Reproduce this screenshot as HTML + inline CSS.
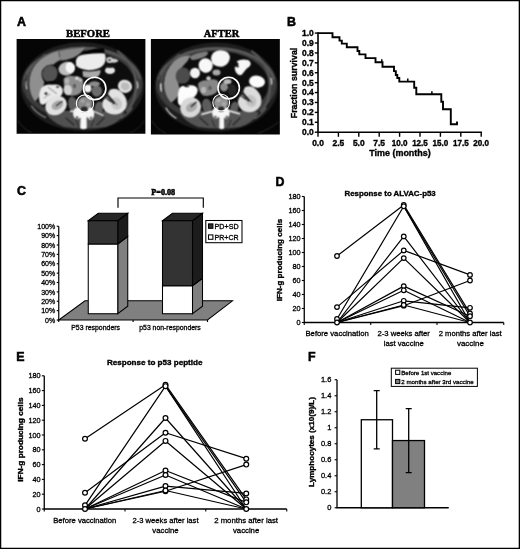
<!DOCTYPE html>
<html><head><meta charset="utf-8"><title>Figure</title>
<style>
html,body{margin:0;padding:0;background:#fff;}
body{width:520px;height:549px;overflow:hidden;font-family:"Liberation Sans",sans-serif;}
svg{display:block;}
text{fill:#000;}
</style></head><body>
<svg width="520" height="549" viewBox="0 0 520 549">
<rect x="0" y="0" width="520" height="549" fill="#fff"/>
<g opacity="0.999">
<text x="88" y="36.8" text-anchor="middle" style="font-family:'Liberation Serif', serif;font-size:10.7px;font-weight:bold;" stroke="#000" stroke-width="0.5" textLength="44" lengthAdjust="spacingAndGlyphs" >BEFORE</text>
<text x="221.5" y="36.8" text-anchor="middle" style="font-family:'Liberation Serif', serif;font-size:10.6px;font-weight:bold;" stroke="#000" stroke-width="0.5" textLength="35.5" lengthAdjust="spacingAndGlyphs" >AFTER</text>
<g id="ct1"><defs>
<filter id="bl" x="-5%" y="-5%" width="110%" height="110%" color-interpolation-filters="sRGB"><feConvolveMatrix order="3" kernelMatrix="1 2 1 2 4 2 1 2 1" divisor="16" edgeMode="duplicate" preserveAlpha="false"/></filter>
</defs><clipPath id="c1"><rect x="16.6" y="39.1" width="128.8" height="94.6"/></clipPath>
<g clip-path="url(#c1)">
<rect x="14.600000000000001" y="37.1" width="132.8" height="98.6" fill="#050505"/>
<g filter="url(#bl)">
<ellipse cx="82.3" cy="86.6" rx="61.6" ry="44.4" fill="#1d1d1d" />
<ellipse cx="82.3" cy="83.6" rx="60.2" ry="37.0" fill="#3b3b3b" />
<ellipse cx="82.2" cy="84.2" rx="52.6" ry="33.4" fill="#0d0d0d" />
<path d="M36 112 Q60 131 85 131.5 Q110 131 130 111 Q112 126 85 127 Q56 126 36 112 Z" fill="#1a1a1a" />
<path d="M46 113 Q58 110 72 111 L98 111 Q114 111 125 112.5 Q120 122.5 106 127 Q85 130 64 127 Q51 122 46 113 Z" fill="#505050" />
<path d="M66 118 L74 125" fill="none" stroke="#262626" stroke-width="1.2" stroke-linecap="round" />
<path d="M104 118 L97 125" fill="none" stroke="#262626" stroke-width="1.2" stroke-linecap="round" />
<path d="M76 120 L79 127" fill="none" stroke="#2a2a2a" stroke-width="1" stroke-linecap="round" />
<path d="M94 120 L91 127" fill="none" stroke="#2a2a2a" stroke-width="1" stroke-linecap="round" />
<path d="M24.8 78 A58.3 36 0 0 1 139.8 78" fill="none" stroke="#585858" stroke-width="2.6" stroke-linecap="round" />
<path d="M34.8 101.2 Q29.6 94 29.3 84 Q29.5 72 36 64 Q44 55 58 51 L60.5 60 Q56 61.5 53.5 64.5 Q46 63.5 42 70.5 Q40.5 77 44.3 82 Q43.5 89.5 39.5 96 Q37.5 100 34.8 101.2 Z" fill="#8f8f8f" />
<path d="M59 51.2 Q70 48.6 85 47.4 Q82.5 52.5 74 57.4 Q67 60 60.5 60.6 Z" fill="#868686" />
<ellipse cx="49.9" cy="73.6" rx="7.6" ry="8.4" fill="#535353" transform="rotate(20 49.9 73.6)" />
<ellipse cx="66.8" cy="68.6" rx="8.4" ry="6.8" fill="#bdbdbd" transform="rotate(-12 66.8 68.6)" />
<ellipse cx="70.2" cy="67.6" rx="4.6" ry="5.6" fill="#f6f6f6" transform="rotate(-10 70.2 67.6)" />
<path d="M79 55.5 Q90 47.6 104 48.4 L105 54 Z" fill="#000" />
<path d="M75.8 61 Q76.5 55.6 84 54.6 Q96 53 104.6 53.4 Q107 58 104.2 64 Q100 70 88.5 70.2 Q79 69.4 76.2 65.5 Z" fill="#ececec" />
<path d="M82.5 71 Q92 72.2 100.5 70 Q101 75 96.5 77.5 Q88 78.5 83 76.5 Z" fill="#a9a9a9" />
<path d="M63.5 79 Q67 74.8 74 76.2 Q81 75.6 83 80 Q84 88 80.5 93 Q76 96.6 70 95.4 Q64.5 93 64 86 Z" fill="#8d8d8d" />
<ellipse cx="67.8" cy="90" rx="4.2" ry="5.4" fill="#d2d2d2" transform="rotate(-10 67.8 90)" />
<ellipse cx="77" cy="78.2" rx="1.8" ry="1.8" fill="#e0e0e0" />
<ellipse cx="80.4" cy="80" rx="1.4" ry="1.6" fill="#d4d4d4" />
<ellipse cx="67" cy="81" rx="2.4" ry="3" fill="#b3b3b3" />
<ellipse cx="74.5" cy="86" rx="1.6" ry="2.2" fill="#5c5c5c" />
<path d="M41 88.5 Q45 83.8 52 84.8 Q60 83.6 62.6 89 Q63.6 95 59 97 Q50.5 97 46 103 Q42.5 106.5 39.8 102.8 Q38 95 41 88.5 Z" fill="#e9e9e9" />
<ellipse cx="46" cy="93.6" rx="1.5" ry="1.3" fill="#2c2c2c" />
<path d="M48.5 87.5 L56.5 93.5" fill="none" stroke="#777" stroke-width="0.9" stroke-linecap="round" />
<path d="M44 98 L50 94" fill="none" stroke="#8a8a8a" stroke-width="0.9" stroke-linecap="round" />
<ellipse cx="57.6" cy="87" rx="1.6" ry="1.1" fill="#4c4c4c" />
<path d="M45.5 84.4 Q48 80.4 52 81.2 Q56 80.6 57.4 83.6 Q52 82.6 45.5 84.4 Z" fill="#050505" />
<ellipse cx="56" cy="105.6" rx="11.2" ry="9.3" fill="#e2e2e2" transform="rotate(-28 56 105.6)" />
<ellipse cx="57.4" cy="105.2" rx="6.2" ry="4.2" fill="#a8a8a8" transform="rotate(-28 57.4 105.2)" />
<path d="M62 101.5 L56.5 105.5" fill="none" stroke="#3c3c3c" stroke-width="1.4" stroke-linecap="round" />
<ellipse cx="73" cy="104.5" rx="4.6" ry="7.8" fill="#5e5e5e" transform="rotate(-12 73 104.5)" />
<ellipse cx="99" cy="107.6" rx="4.4" ry="6.3" fill="#5e5e5e" transform="rotate(14 99 107.6)" />
<ellipse cx="85" cy="103.4" rx="7.6" ry="6.8" fill="#8a8a8a" />
<ellipse cx="82.5" cy="101" rx="2.2" ry="1.8" fill="#a8a8a8" />
<ellipse cx="88" cy="104.5" rx="2" ry="2.2" fill="#a4a4a4" />
<ellipse cx="77.3" cy="113.3" rx="4.2" ry="5.9" fill="#f6f6f6" />
<ellipse cx="90.6" cy="113.6" rx="3.6" ry="6.3" fill="#f6f6f6" />
<path d="M80.5 111.6 L88 111.6 L88 116.5 L86.6 118 L86.8 128.3 Q83.5 130 80.2 128.3 L80.6 118 L79.5 116.5 Z" fill="#f6f6f6" />
<path d="M70.5 111.2 L75 111.4" fill="none" stroke="#ededed" stroke-width="1.6" stroke-linecap="round" />
<path d="M93 111 L103 115.4" fill="none" stroke="#e6e6e6" stroke-width="1.2" stroke-linecap="round" />
<ellipse cx="77" cy="117.5" rx="1.4" ry="1.6" fill="#6a6a6a" />
<ellipse cx="91" cy="118" rx="1.3" ry="1.6" fill="#6a6a6a" />
<ellipse cx="84.2" cy="109" rx="3.4" ry="2.6" fill="#2b2b2b" />
<ellipse cx="96.8" cy="91" rx="5.2" ry="5.8" fill="#6c6c6c" />
<ellipse cx="94.5" cy="83.8" rx="5.4" ry="2.6" fill="#8c8c8c" />
<ellipse cx="87.8" cy="88.6" rx="3.6" ry="4" fill="#f2f2f2" />
<path d="M110 89.7 Q115.4 87.6 119.4 90.4 Q124.6 94.4 126.4 99.4 Q127.6 104 126 108 Q124 111.6 120 113.6 Q113 116 107 112.6 Q102 108.6 102.4 103.2 Q102.8 100 105 98.4 L107.6 95.5 Q108.4 91.6 110 89.7 Z" fill="#e2e2e2" />
<ellipse cx="116.5" cy="103.5" rx="5.4" ry="6.4" fill="#c6c6c6" transform="rotate(-25 116.5 103.5)" />
<path d="M104.6 91.6 L113.8 103" fill="none" stroke="#1e1e1e" stroke-width="2.3" stroke-linecap="round" />
<path d="M103.2 95.5 L110.5 101.5" fill="none" stroke="#2c2c2c" stroke-width="1.3" stroke-linecap="round" />
<path d="M112 99 L117 105" fill="none" stroke="#555" stroke-width="1" stroke-linecap="round" />
<ellipse cx="125" cy="86.3" rx="7.2" ry="6.5" fill="#e2e2e2" transform="rotate(25 125 86.3)" />
<ellipse cx="125.2" cy="86.3" rx="4.6" ry="4" fill="#bcbcbc" transform="rotate(25 125.2 86.3)" />
<path d="M106.5 58 Q110 56 113 58.5 Q117 58.5 118.5 61 Q116 63.5 112 62.5 Q108.5 64 106.5 61.5 Z" fill="#cfcfcf" />
<ellipse cx="109.5" cy="60" rx="1.2" ry="1" fill="#222" />
<ellipse cx="110" cy="70.4" rx="5" ry="3.6" fill="#e4e4e4" />
<ellipse cx="110" cy="66.6" rx="4.4" ry="1.4" fill="#1a1a1a" />
<path d="M118 51.5 Q130 60 134.6 74 Q138 88 133.5 101 Q131 107 127 111" fill="none" stroke="#545454" stroke-width="2.6" stroke-linecap="round" />
<path d="M27.6 97 Q25 86 28.5 75 Q33 63 45 54.5" fill="none" stroke="#4c4c4c" stroke-width="1.8" stroke-linecap="round" />
<path d="M25.7 81.5 Q25.2 85 26.4 88.6" fill="none" stroke="#d9d9d9" stroke-width="1.6" stroke-linecap="round" />
<path d="M137.2 82 Q138.2 85 137.6 88" fill="none" stroke="#bdbdbd" stroke-width="1.4" stroke-linecap="round" />
<path d="M31.5 106 Q36 113 45.5 117.5" fill="none" stroke="#9a9a9a" stroke-width="1.1" stroke-linecap="round" />
<path d="M132 108 Q128.5 114 121 118" fill="none" stroke="#6e6e6e" stroke-width="1.1" stroke-linecap="round" />
<path d="M27 97 Q23.6 86 26 75" fill="none" stroke="#2a2a2a" stroke-width="0.9" stroke-linecap="round" />
<path d="M18 120.5 Q23 129 32 133" fill="none" stroke="#2e2e2e" stroke-width="0.9" stroke-linecap="round" />
<path d="M144 121 Q139 129 130 133" fill="none" stroke="#262626" stroke-width="0.9" stroke-linecap="round" />
</g>
<g>
<circle cx="94.7" cy="88.4" r="11.2" fill="none" stroke="#fff" stroke-width="1.6"/>
<circle cx="85" cy="103.6" r="8.7" fill="none" stroke="#fff" stroke-width="1.1"/>
</g>
</g></g>
<g id="ct2"><clipPath id="c2"><rect x="150.9" y="39.1" width="128.95000000000002" height="95.5"/></clipPath>
<g clip-path="url(#c2)">
<rect x="148.9" y="37.1" width="132.95000000000002" height="99.5" fill="#050505"/>
<g filter="url(#bl)">
<ellipse cx="216.3" cy="87" rx="61.6" ry="44.6" fill="#1d1d1d" />
<ellipse cx="216.3" cy="84.2" rx="60.2" ry="37.2" fill="#3b3b3b" />
<ellipse cx="216.2" cy="84.2" rx="52.4" ry="33.2" fill="#0d0d0d" />
<path d="M170 112 Q194 131 219 131.5 Q244 131 264 111 Q246 126 219 127 Q190 126 170 112 Z" fill="#1a1a1a" />
<path d="M180 113 Q192 110 206 111 L232 111 Q248 111 259 112.5 Q254 122.5 240 127 Q219 130 198 127 Q185 122 180 113 Z" fill="#545454" />
<path d="M200 118 L208 125" fill="none" stroke="#262626" stroke-width="1.2" stroke-linecap="round" />
<path d="M240 118 L233 125" fill="none" stroke="#262626" stroke-width="1.2" stroke-linecap="round" />
<path d="M212 120 L215 127" fill="none" stroke="#2a2a2a" stroke-width="1" stroke-linecap="round" />
<path d="M231 120 L228 127" fill="none" stroke="#2a2a2a" stroke-width="1" stroke-linecap="round" />
<path d="M158.8 78.6 A58.3 36.2 0 0 1 273.8 78.6" fill="none" stroke="#585858" stroke-width="2.6" stroke-linecap="round" />
<path d="M170.8 102.6 Q164 94 164 84 Q164.6 71 174 61.5 Q182 54.5 190.5 55.6 Q188.5 61 183 66 Q177.2 72 177.4 80 Q179.6 86 179.4 92 Q177 99.6 170.8 102.6 Z" fill="#8e8e8e" />
<path d="M189.5 56.6 Q196 52.4 207 51.4 Q209.4 53.6 205.6 56.2 Q197 60.4 191.6 60 Z" fill="#7c7c7c" />
<ellipse cx="182.9" cy="75.8" rx="7.2" ry="8.3" fill="#4b4b4b" transform="rotate(15 182.9 75.8)" />
<ellipse cx="195" cy="73" rx="5" ry="5.2" fill="#f4f4f4" />
<ellipse cx="205.6" cy="65.5" rx="7" ry="7.3" fill="#f8f8f8" transform="rotate(-30 205.6 65.5)" />
<path d="M211 58 Q212 51 220 50.3 Q229 50.6 230 57 Q229.5 64 223 66.6 Q215 67 212 63 Z" fill="#f6f6f6" />
<path d="M198 84 Q201 79.5 208 80.5 Q214 78 218 81 Q219.5 88 216 93 Q210 97 203 95.5 Q198.5 92 198 84 Z" fill="#878787" />
<ellipse cx="208.5" cy="78.3" rx="2.2" ry="2" fill="#cdcdcd" />
<ellipse cx="216.5" cy="72.5" rx="4" ry="3" fill="#a8a8a8" />
<ellipse cx="203.5" cy="90" rx="2.6" ry="3.2" fill="#b4b4b4" />
<ellipse cx="210" cy="88" rx="1.6" ry="2.2" fill="#5a5a5a" />
<path d="M179.5 88 Q183 84 190 85.2 Q197 85 197.8 90 Q197 96 192 98.5 Q186 101 183 105.5 Q179.5 107 178 103 Q177 95 179.5 88 Z" fill="#fcfcfc" />
<ellipse cx="186.8" cy="86.3" rx="2.6" ry="1" fill="#1c1c1c" />
<ellipse cx="183.5" cy="84.8" rx="3.5" ry="1.2" fill="#0c0c0c" />
<ellipse cx="190.6" cy="107.4" rx="10.6" ry="10" fill="#d8d8d8" transform="rotate(-30 190.6 107.4)" />
<ellipse cx="191.6" cy="107.2" rx="6" ry="4.4" fill="#aaaaaa" transform="rotate(-30 191.6 107.2)" />
<path d="M196 102.4 L191.4 106.4" fill="none" stroke="#333" stroke-width="1.5" stroke-linecap="round" />
<ellipse cx="207" cy="106" rx="4.8" ry="7.5" fill="#5c5c5c" transform="rotate(-12 207 106)" />
<ellipse cx="234.3" cy="108" rx="4" ry="6.3" fill="#5c5c5c" transform="rotate(12 234.3 108)" />
<ellipse cx="221.2" cy="102.8" rx="7.4" ry="6.8" fill="#929292" />
<ellipse cx="218.5" cy="100.5" rx="2.2" ry="1.8" fill="#b0b0b0" />
<ellipse cx="224" cy="104" rx="2" ry="2.2" fill="#acacac" />
<ellipse cx="215.8" cy="113" rx="3.6" ry="5.6" fill="#f6f6f6" />
<ellipse cx="226.2" cy="113" rx="3.4" ry="5.6" fill="#f6f6f6" />
<path d="M217.5 111.6 L225 111.6 L225 116.5 L223.9 118 L224.2 128.3 Q221.7 130 219.2 128.3 L219.4 118 L218.2 116.5 Z" fill="#f6f6f6" />
<path d="M213 111.2 L202 114.3" fill="none" stroke="#f0f0f0" stroke-width="1.7" stroke-linecap="round" />
<path d="M229 110.8 L239.3 113.8" fill="none" stroke="#f0f0f0" stroke-width="1.7" stroke-linecap="round" />
<ellipse cx="215.4" cy="117" rx="1.3" ry="1.5" fill="#6a6a6a" />
<ellipse cx="226.8" cy="117" rx="1.3" ry="1.5" fill="#6a6a6a" />
<ellipse cx="221.2" cy="109" rx="3.3" ry="2.5" fill="#2b2b2b" />
<ellipse cx="224" cy="87" rx="4" ry="4.4" fill="#8c8c8c" />
<ellipse cx="227.5" cy="81.5" rx="4" ry="2.6" fill="#b8b8b8" />
<ellipse cx="232" cy="90" rx="4.4" ry="6" fill="#262626" />
<path d="M245 87.2 Q250.4 85.2 254.4 88 Q259.4 92 261 97 Q262 101.6 260.6 105.6 Q258.6 109.2 254.6 111.2 Q248 113.6 242.4 110.4 Q237.6 106.4 238 101 Q238.4 97.8 240.4 96.2 L243 93.2 Q243.6 89.2 245 87.2 Z" fill="#dcdcdc" />
<ellipse cx="251" cy="101" rx="5.2" ry="6.2" fill="#c2c2c2" transform="rotate(-25 251 101)" />
<path d="M239.6 89.4 L248.8 100.6" fill="none" stroke="#1e1e1e" stroke-width="2.3" stroke-linecap="round" />
<path d="M238.4 93.4 L245.6 99.2" fill="none" stroke="#2c2c2c" stroke-width="1.3" stroke-linecap="round" />
<path d="M247 96.8 L252 102.6" fill="none" stroke="#555" stroke-width="1" stroke-linecap="round" />
<path d="M236.5 61.5 Q241 58.5 248 60 Q252 62 250 66 Q245.5 69 243.5 72.5 Q241.5 76.5 238 74.5 Q234.5 71.5 234.8 67 Q238.5 66 238.5 63.5 Z" fill="#f7f7f7" />
<ellipse cx="237.6" cy="66.4" rx="1.3" ry="1.1" fill="#181818" />
<ellipse cx="257" cy="81.6" rx="8" ry="6" fill="#fbfbfb" transform="rotate(8 257 81.6)" />
<path d="M252 51.5 Q264 60 268.6 74 Q272 88 267.5 101 Q265 107 261 111" fill="none" stroke="#545454" stroke-width="2.6" stroke-linecap="round" />
<path d="M161.6 97 Q159 86 162.5 75 Q167 63 179 54.5" fill="none" stroke="#4c4c4c" stroke-width="1.8" stroke-linecap="round" />
<path d="M160.8 84 Q160.3 87.5 161.2 91" fill="none" stroke="#e8e8e8" stroke-width="1.5" stroke-linecap="round" />
<path d="M271 78.5 Q272 81 271.6 84" fill="none" stroke="#cdcdcd" stroke-width="1.4" stroke-linecap="round" />
<path d="M166 108 Q169.5 114.5 176 118" fill="none" stroke="#dcdcdc" stroke-width="1.2" stroke-linecap="round" />
<path d="M266 108 Q262 114.5 255 118.5" fill="none" stroke="#727272" stroke-width="1.1" stroke-linecap="round" />
<path d="M161 97 Q157.6 86 160 75" fill="none" stroke="#2a2a2a" stroke-width="0.9" stroke-linecap="round" />
<path d="M152 121 Q157 129.5 166 133.5" fill="none" stroke="#2e2e2e" stroke-width="0.9" stroke-linecap="round" />
<path d="M278.5 122 Q272 128 258 133.5" fill="none" stroke="#303030" stroke-width="0.9" stroke-linecap="round" />
</g>
<g>
<circle cx="228.7" cy="88" r="10.7" fill="none" stroke="#fff" stroke-width="1.6"/>
<circle cx="221.2" cy="102.6" r="8.4" fill="none" stroke="#fff" stroke-width="1.1"/>
</g>
</g></g>
<path d="M318 32.300000000000004 V132.2 H482" fill="none" stroke="#000" stroke-width="1.6"/>
<path d="M314.8 132.2 H318" stroke="#000" stroke-width="1.4"/>
<text x="313.8" y="135.1" text-anchor="end" style="font-family:'Liberation Sans', sans-serif;font-size:8.4px;font-weight:bold;" stroke="#000" stroke-width="0.36" textLength="11.75" lengthAdjust="spacingAndGlyphs" >0.0</text>
<path d="M314.8 122.28999999999999 H318" stroke="#000" stroke-width="1.4"/>
<text x="313.8" y="125.19" text-anchor="end" style="font-family:'Liberation Sans', sans-serif;font-size:8.4px;font-weight:bold;" stroke="#000" stroke-width="0.36" textLength="11.75" lengthAdjust="spacingAndGlyphs" >0.1</text>
<path d="M314.8 112.38 H318" stroke="#000" stroke-width="1.4"/>
<text x="313.8" y="115.28" text-anchor="end" style="font-family:'Liberation Sans', sans-serif;font-size:8.4px;font-weight:bold;" stroke="#000" stroke-width="0.36" textLength="11.75" lengthAdjust="spacingAndGlyphs" >0.2</text>
<path d="M314.8 102.46999999999998 H318" stroke="#000" stroke-width="1.4"/>
<text x="313.8" y="105.36999999999999" text-anchor="end" style="font-family:'Liberation Sans', sans-serif;font-size:8.4px;font-weight:bold;" stroke="#000" stroke-width="0.36" textLength="11.75" lengthAdjust="spacingAndGlyphs" >0.3</text>
<path d="M314.8 92.55999999999999 H318" stroke="#000" stroke-width="1.4"/>
<text x="313.8" y="95.46" text-anchor="end" style="font-family:'Liberation Sans', sans-serif;font-size:8.4px;font-weight:bold;" stroke="#000" stroke-width="0.36" textLength="11.75" lengthAdjust="spacingAndGlyphs" >0.4</text>
<path d="M314.8 82.64999999999999 H318" stroke="#000" stroke-width="1.4"/>
<text x="313.8" y="85.55" text-anchor="end" style="font-family:'Liberation Sans', sans-serif;font-size:8.4px;font-weight:bold;" stroke="#000" stroke-width="0.36" textLength="11.75" lengthAdjust="spacingAndGlyphs" >0.5</text>
<path d="M314.8 72.73999999999998 H318" stroke="#000" stroke-width="1.4"/>
<text x="313.8" y="75.63999999999999" text-anchor="end" style="font-family:'Liberation Sans', sans-serif;font-size:8.4px;font-weight:bold;" stroke="#000" stroke-width="0.36" textLength="11.75" lengthAdjust="spacingAndGlyphs" >0.6</text>
<path d="M314.8 62.829999999999984 H318" stroke="#000" stroke-width="1.4"/>
<text x="313.8" y="65.72999999999999" text-anchor="end" style="font-family:'Liberation Sans', sans-serif;font-size:8.4px;font-weight:bold;" stroke="#000" stroke-width="0.36" textLength="11.75" lengthAdjust="spacingAndGlyphs" >0.7</text>
<path d="M314.8 52.91999999999999 H318" stroke="#000" stroke-width="1.4"/>
<text x="313.8" y="55.819999999999986" text-anchor="end" style="font-family:'Liberation Sans', sans-serif;font-size:8.4px;font-weight:bold;" stroke="#000" stroke-width="0.36" textLength="11.75" lengthAdjust="spacingAndGlyphs" >0.8</text>
<path d="M314.8 43.00999999999999 H318" stroke="#000" stroke-width="1.4"/>
<text x="313.8" y="45.90999999999999" text-anchor="end" style="font-family:'Liberation Sans', sans-serif;font-size:8.4px;font-weight:bold;" stroke="#000" stroke-width="0.36" textLength="11.75" lengthAdjust="spacingAndGlyphs" >0.9</text>
<path d="M314.8 33.099999999999994 H318" stroke="#000" stroke-width="1.4"/>
<text x="313.8" y="35.99999999999999" text-anchor="end" style="font-family:'Liberation Sans', sans-serif;font-size:8.4px;font-weight:bold;" stroke="#000" stroke-width="0.36" textLength="11.75" lengthAdjust="spacingAndGlyphs" >1.0</text>
<path d="M318.0 132.2 V136.79999999999998" stroke="#000" stroke-width="1.4"/>
<text x="318.0" y="145.6" text-anchor="middle" style="font-family:'Liberation Sans', sans-serif;font-size:8.4px;font-weight:bold;" stroke="#000" stroke-width="0.36" textLength="11.75" lengthAdjust="spacingAndGlyphs" >0.0</text>
<path d="M338.4 132.2 V136.79999999999998" stroke="#000" stroke-width="1.4"/>
<text x="338.4" y="145.6" text-anchor="middle" style="font-family:'Liberation Sans', sans-serif;font-size:8.4px;font-weight:bold;" stroke="#000" stroke-width="0.36" textLength="11.75" lengthAdjust="spacingAndGlyphs" >2.5</text>
<path d="M358.8 132.2 V136.79999999999998" stroke="#000" stroke-width="1.4"/>
<text x="358.8" y="145.6" text-anchor="middle" style="font-family:'Liberation Sans', sans-serif;font-size:8.4px;font-weight:bold;" stroke="#000" stroke-width="0.36" textLength="11.75" lengthAdjust="spacingAndGlyphs" >5.0</text>
<path d="M379.2 132.2 V136.79999999999998" stroke="#000" stroke-width="1.4"/>
<text x="379.2" y="145.6" text-anchor="middle" style="font-family:'Liberation Sans', sans-serif;font-size:8.4px;font-weight:bold;" stroke="#000" stroke-width="0.36" textLength="11.75" lengthAdjust="spacingAndGlyphs" >7.5</text>
<path d="M399.6 132.2 V136.79999999999998" stroke="#000" stroke-width="1.4"/>
<text x="399.6" y="145.6" text-anchor="middle" style="font-family:'Liberation Sans', sans-serif;font-size:8.4px;font-weight:bold;" stroke="#000" stroke-width="0.36" textLength="15.7" lengthAdjust="spacingAndGlyphs" >10.0</text>
<path d="M420.0 132.2 V136.79999999999998" stroke="#000" stroke-width="1.4"/>
<text x="420.0" y="145.6" text-anchor="middle" style="font-family:'Liberation Sans', sans-serif;font-size:8.4px;font-weight:bold;" stroke="#000" stroke-width="0.36" textLength="15.7" lengthAdjust="spacingAndGlyphs" >12.5</text>
<path d="M440.4 132.2 V136.79999999999998" stroke="#000" stroke-width="1.4"/>
<text x="440.4" y="145.6" text-anchor="middle" style="font-family:'Liberation Sans', sans-serif;font-size:8.4px;font-weight:bold;" stroke="#000" stroke-width="0.36" textLength="15.7" lengthAdjust="spacingAndGlyphs" >15.0</text>
<path d="M460.79999999999995 132.2 V136.79999999999998" stroke="#000" stroke-width="1.4"/>
<text x="460.79999999999995" y="145.6" text-anchor="middle" style="font-family:'Liberation Sans', sans-serif;font-size:8.4px;font-weight:bold;" stroke="#000" stroke-width="0.36" textLength="15.7" lengthAdjust="spacingAndGlyphs" >17.5</text>
<path d="M481.2 132.2 V136.79999999999998" stroke="#000" stroke-width="1.4"/>
<text x="481.2" y="145.6" text-anchor="middle" style="font-family:'Liberation Sans', sans-serif;font-size:8.4px;font-weight:bold;" stroke="#000" stroke-width="0.36" textLength="15.7" lengthAdjust="spacingAndGlyphs" >20.0</text>
<text x="400" y="156.4" text-anchor="middle" style="font-family:'Liberation Sans', sans-serif;font-size:8.9px;font-weight:bold;" stroke="#000" stroke-width="0.36" textLength="61.5" lengthAdjust="spacingAndGlyphs" >Time (months)</text>
<text transform="translate(297.3,83) rotate(-90)" text-anchor="middle" textLength="70.5" lengthAdjust="spacingAndGlyphs" stroke="#000" stroke-width="0.36" style="font-family:'Liberation Sans', sans-serif;font-size:8.9px;font-weight:bold">Fraction survival</text>
<path d="M318 33.1 L332.5 33.1 L332.5 37.2 L339.5 37.2 L339.5 40.6 L341.8 40.6 L341.8 43.6 L346.8 43.6 L346.8 47.3 L357.5 47.3 L357.5 51 L359.3 51 L359.3 54.4 L365.5 54.4 L365.5 58.1 L375.5 58.1 L375.5 62.3 L382.5 62.3 L382.5 66.8 L394 66.8 L394 71.1 L395.8 71.1 L395.8 75 L397.3 75 L397.3 78 L399.3 78 L399.3 81.6 L414.2 81.6 L414.2 87.8 L416.3 87.8 L416.3 94.3 L441.3 94.3 L441.3 101.8 L443 101.8 L443 109.3 L450.8 109.3 L450.8 124.3 L457 124.3 L457 121.6" fill="none" stroke="#000" stroke-width="1.9" stroke-linejoin="miter"/>
<path d="M381.8 62.3 V59.199999999999996" stroke="#000" stroke-width="1.5"/>
<path d="M407.8 81.6 V78.5" stroke="#000" stroke-width="1.5"/>
<path d="M431.9 94.3 V91.2" stroke="#000" stroke-width="1.5"/>
<path d="M58.75 320 L207.5 320 L232.5 300.8 L85 300.8 Z" fill="#808080" stroke="#000" stroke-width="1.05"/>
<path d="M58.75 226.25 V320.0" stroke="#000" stroke-width="1.2"/>
<path d="M56.75 320.0 H58.75" stroke="#000" stroke-width="1.15"/>
<text x="55.2" y="322.7" text-anchor="end" style="font-family:'Liberation Sans', sans-serif;font-size:7px;" stroke="#000" stroke-width="0.3" >0%</text>
<path d="M56.75 310.625 H58.75" stroke="#000" stroke-width="1.15"/>
<text x="55.2" y="313.325" text-anchor="end" style="font-family:'Liberation Sans', sans-serif;font-size:7px;" stroke="#000" stroke-width="0.3" >10%</text>
<path d="M56.75 301.25 H58.75" stroke="#000" stroke-width="1.15"/>
<text x="55.2" y="303.95" text-anchor="end" style="font-family:'Liberation Sans', sans-serif;font-size:7px;" stroke="#000" stroke-width="0.3" >20%</text>
<path d="M56.75 291.875 H58.75" stroke="#000" stroke-width="1.15"/>
<text x="55.2" y="294.575" text-anchor="end" style="font-family:'Liberation Sans', sans-serif;font-size:7px;" stroke="#000" stroke-width="0.3" >30%</text>
<path d="M56.75 282.5 H58.75" stroke="#000" stroke-width="1.15"/>
<text x="55.2" y="285.2" text-anchor="end" style="font-family:'Liberation Sans', sans-serif;font-size:7px;" stroke="#000" stroke-width="0.3" >40%</text>
<path d="M56.75 273.125 H58.75" stroke="#000" stroke-width="1.15"/>
<text x="55.2" y="275.825" text-anchor="end" style="font-family:'Liberation Sans', sans-serif;font-size:7px;" stroke="#000" stroke-width="0.3" >50%</text>
<path d="M56.75 263.75 H58.75" stroke="#000" stroke-width="1.15"/>
<text x="55.2" y="266.45" text-anchor="end" style="font-family:'Liberation Sans', sans-serif;font-size:7px;" stroke="#000" stroke-width="0.3" >60%</text>
<path d="M56.75 254.375 H58.75" stroke="#000" stroke-width="1.15"/>
<text x="55.2" y="257.075" text-anchor="end" style="font-family:'Liberation Sans', sans-serif;font-size:7px;" stroke="#000" stroke-width="0.3" >70%</text>
<path d="M56.75 245.0 H58.75" stroke="#000" stroke-width="1.15"/>
<text x="55.2" y="247.7" text-anchor="end" style="font-family:'Liberation Sans', sans-serif;font-size:7px;" stroke="#000" stroke-width="0.3" >80%</text>
<path d="M56.75 235.625 H58.75" stroke="#000" stroke-width="1.15"/>
<text x="55.2" y="238.325" text-anchor="end" style="font-family:'Liberation Sans', sans-serif;font-size:7px;" stroke="#000" stroke-width="0.3" >90%</text>
<path d="M56.75 226.25 H58.75" stroke="#000" stroke-width="1.15"/>
<text x="55.2" y="228.95" text-anchor="end" style="font-family:'Liberation Sans', sans-serif;font-size:7px;" stroke="#000" stroke-width="0.3" >100%</text>
<path d="M58.75 320 V322" stroke="#000" stroke-width="1.15"/>
<path d="M133.1 320 V322" stroke="#000" stroke-width="1.15"/>
<path d="M207.5 320 V322" stroke="#000" stroke-width="1.15"/>
<path d="M117.75 244 L127.75 236.5 L127.75 306.25 L117.75 313.75 Z" fill="#808080" stroke="#000" stroke-width="1.05"/>
<path d="M117.75 220.75 L127.75 213.25 L127.75 236.5 L117.75 244 Z" fill="#1c1c1c" stroke="#000" stroke-width="1.05"/>
<path d="M88.25 220.75 L98.25 213.25 L127.75 213.25 L117.75 220.75 Z" fill="#262626" stroke="#000" stroke-width="1.05"/>
<rect x="88.25" y="244" width="29.5" height="69.75" fill="#fff" stroke="#000" stroke-width="1.05"/>
<rect x="88.25" y="220.75" width="29.5" height="23.25" fill="#333" stroke="#000" stroke-width="1.05"/>
<path d="M192.5 285.75 L202.5 278.25 L202.5 306.25 L192.5 313.75 Z" fill="#808080" stroke="#000" stroke-width="1.05"/>
<path d="M192.5 220.75 L202.5 213.25 L202.5 278.25 L192.5 285.75 Z" fill="#1c1c1c" stroke="#000" stroke-width="1.05"/>
<path d="M162.5 220.75 L172.5 213.25 L202.5 213.25 L192.5 220.75 Z" fill="#262626" stroke="#000" stroke-width="1.05"/>
<rect x="162.5" y="285.75" width="30.0" height="28.0" fill="#fff" stroke="#000" stroke-width="1.05"/>
<rect x="162.5" y="220.75" width="30.0" height="65.0" fill="#333" stroke="#000" stroke-width="1.05"/>
<text x="95.6" y="329.8" text-anchor="middle" style="font-family:'Liberation Sans', sans-serif;font-size:7px;" stroke="#000" stroke-width="0.3" textLength="48.8" lengthAdjust="spacingAndGlyphs" >P53 responders</text>
<text x="170" y="329.8" text-anchor="middle" style="font-family:'Liberation Sans', sans-serif;font-size:7px;" stroke="#000" stroke-width="0.3" textLength="61.5" lengthAdjust="spacingAndGlyphs" >p53 non-responders</text>
<path d="M118 207.8 V198 H203.3 V207.8" fill="none" stroke="#000" stroke-width="1.15"/>
<text x="163.2" y="195" text-anchor="middle" style="font-family:'Liberation Serif', serif;font-size:8.3px;font-weight:bold;" stroke="#000" stroke-width="0.55" textLength="23.8" lengthAdjust="spacingAndGlyphs" >P=0.08</text>
<rect x="205.8" y="220.5" width="36.2" height="22.2" fill="#fff" stroke="#000" stroke-width="1.05"/>
<rect x="208.5" y="223.9" width="4.4" height="4.4" fill="#333" stroke="#000" stroke-width="1.05"/>
<rect x="208.5" y="234.9" width="4.4" height="4.4" fill="#fff" stroke="#000" stroke-width="1.05"/>
<text x="214.6" y="228.9" text-anchor="start" style="font-family:'Liberation Sans', sans-serif;font-size:7.1px;" stroke="#000" stroke-width="0.3" textLength="24" lengthAdjust="spacingAndGlyphs" >PD+SD</text>
<text x="214.6" y="239.9" text-anchor="start" style="font-family:'Liberation Sans', sans-serif;font-size:7.1px;" stroke="#000" stroke-width="0.3" textLength="24" lengthAdjust="spacingAndGlyphs" >PR+CR</text>
<path d="M304.25 196.5 V322.5 H503.75" fill="none" stroke="#000" stroke-width="1.3"/>
<path d="M301.85 322.5 H304.25" stroke="#000" stroke-width="1.1"/>
<text x="300.55" y="325.05" text-anchor="end" style="font-family:'Liberation Sans', sans-serif;font-size:7.25px;" stroke="#000" stroke-width="0.3" >0</text>
<path d="M301.85 308.5 H304.25" stroke="#000" stroke-width="1.1"/>
<text x="300.55" y="311.05" text-anchor="end" style="font-family:'Liberation Sans', sans-serif;font-size:7.25px;" stroke="#000" stroke-width="0.3" >20</text>
<path d="M301.85 294.5 H304.25" stroke="#000" stroke-width="1.1"/>
<text x="300.55" y="297.05" text-anchor="end" style="font-family:'Liberation Sans', sans-serif;font-size:7.25px;" stroke="#000" stroke-width="0.3" >40</text>
<path d="M301.85 280.5 H304.25" stroke="#000" stroke-width="1.1"/>
<text x="300.55" y="283.05" text-anchor="end" style="font-family:'Liberation Sans', sans-serif;font-size:7.25px;" stroke="#000" stroke-width="0.3" >60</text>
<path d="M301.85 266.5 H304.25" stroke="#000" stroke-width="1.1"/>
<text x="300.55" y="269.05" text-anchor="end" style="font-family:'Liberation Sans', sans-serif;font-size:7.25px;" stroke="#000" stroke-width="0.3" >80</text>
<path d="M301.85 252.5 H304.25" stroke="#000" stroke-width="1.1"/>
<text x="300.55" y="255.05" text-anchor="end" style="font-family:'Liberation Sans', sans-serif;font-size:7.25px;" stroke="#000" stroke-width="0.3" >100</text>
<path d="M301.85 238.5 H304.25" stroke="#000" stroke-width="1.1"/>
<text x="300.55" y="241.05" text-anchor="end" style="font-family:'Liberation Sans', sans-serif;font-size:7.25px;" stroke="#000" stroke-width="0.3" >120</text>
<path d="M301.85 224.5 H304.25" stroke="#000" stroke-width="1.1"/>
<text x="300.55" y="227.05" text-anchor="end" style="font-family:'Liberation Sans', sans-serif;font-size:7.25px;" stroke="#000" stroke-width="0.3" >140</text>
<path d="M301.85 210.5 H304.25" stroke="#000" stroke-width="1.1"/>
<text x="300.55" y="213.05" text-anchor="end" style="font-family:'Liberation Sans', sans-serif;font-size:7.25px;" stroke="#000" stroke-width="0.3" >160</text>
<path d="M301.85 196.5 H304.25" stroke="#000" stroke-width="1.1"/>
<text x="300.55" y="199.05" text-anchor="end" style="font-family:'Liberation Sans', sans-serif;font-size:7.25px;" stroke="#000" stroke-width="0.3" >180</text>
<path d="M304.25 322.5 V324.9" stroke="#000" stroke-width="1.1"/>
<path d="M370.75 322.5 V324.9" stroke="#000" stroke-width="1.1"/>
<path d="M437 322.5 V324.9" stroke="#000" stroke-width="1.1"/>
<path d="M503.75 322.5 V324.9" stroke="#000" stroke-width="1.1"/>
<path d="M337 256.0 L403.75 204.9 L470 313.4" fill="none" stroke="#000" stroke-width="1.2" stroke-linejoin="round"/>
<path d="M337 319.0 L403.75 206.3 L470 322.5" fill="none" stroke="#000" stroke-width="1.2" stroke-linejoin="round"/>
<path d="M403.75 206.3 L470 316.2" fill="none" stroke="#000" stroke-width="1.2" stroke-linejoin="round"/>
<path d="M337 322.5 L403.75 236.4 L470 322.5" fill="none" stroke="#000" stroke-width="1.2" stroke-linejoin="round"/>
<path d="M337 307.1 L403.75 250.4 L470 274.9" fill="none" stroke="#000" stroke-width="1.2" stroke-linejoin="round"/>
<path d="M337 322.5 L403.75 258.1 L470 322.5" fill="none" stroke="#000" stroke-width="1.2" stroke-linejoin="round"/>
<path d="M337 322.5 L403.75 286.1 L470 316.2" fill="none" stroke="#000" stroke-width="1.2" stroke-linejoin="round"/>
<path d="M337 322.5 L403.75 290.3 L470 322.5" fill="none" stroke="#000" stroke-width="1.2" stroke-linejoin="round"/>
<path d="M337 322.5 L403.75 300.8 L470 307.8" fill="none" stroke="#000" stroke-width="1.2" stroke-linejoin="round"/>
<path d="M337 322.5 L403.75 305.7 L470 280.5" fill="none" stroke="#000" stroke-width="1.2" stroke-linejoin="round"/>
<path d="M337 322.5 L403.75 305.0 L470 322.5" fill="none" stroke="#000" stroke-width="1.2" stroke-linejoin="round"/>
<circle cx="337" cy="256.0" r="2.3" fill="#fff" stroke="#000" stroke-width="1.2"/>
<circle cx="403.75" cy="204.9" r="2.3" fill="#fff" stroke="#000" stroke-width="1.2"/>
<circle cx="470" cy="313.4" r="2.3" fill="#fff" stroke="#000" stroke-width="1.2"/>
<circle cx="337" cy="319.0" r="2.3" fill="#fff" stroke="#000" stroke-width="1.2"/>
<circle cx="403.75" cy="206.3" r="2.3" fill="#fff" stroke="#000" stroke-width="1.2"/>
<circle cx="470" cy="322.5" r="2.3" fill="#fff" stroke="#000" stroke-width="1.2"/>
<circle cx="470" cy="316.2" r="2.3" fill="#fff" stroke="#000" stroke-width="1.2"/>
<circle cx="337" cy="322.5" r="2.3" fill="#fff" stroke="#000" stroke-width="1.2"/>
<circle cx="403.75" cy="236.4" r="2.3" fill="#fff" stroke="#000" stroke-width="1.2"/>
<circle cx="337" cy="307.1" r="2.3" fill="#fff" stroke="#000" stroke-width="1.2"/>
<circle cx="403.75" cy="250.4" r="2.3" fill="#fff" stroke="#000" stroke-width="1.2"/>
<circle cx="470" cy="274.9" r="2.3" fill="#fff" stroke="#000" stroke-width="1.2"/>
<circle cx="403.75" cy="258.1" r="2.3" fill="#fff" stroke="#000" stroke-width="1.2"/>
<circle cx="403.75" cy="286.1" r="2.3" fill="#fff" stroke="#000" stroke-width="1.2"/>
<circle cx="403.75" cy="290.3" r="2.3" fill="#fff" stroke="#000" stroke-width="1.2"/>
<circle cx="403.75" cy="300.8" r="2.3" fill="#fff" stroke="#000" stroke-width="1.2"/>
<circle cx="470" cy="307.8" r="2.3" fill="#fff" stroke="#000" stroke-width="1.2"/>
<circle cx="403.75" cy="305.7" r="2.3" fill="#fff" stroke="#000" stroke-width="1.2"/>
<circle cx="470" cy="280.5" r="2.3" fill="#fff" stroke="#000" stroke-width="1.2"/>
<circle cx="403.75" cy="305.0" r="2.3" fill="#fff" stroke="#000" stroke-width="1.2"/>
<text x="390.1" y="196" text-anchor="middle" style="font-family:'Liberation Sans', sans-serif;font-size:8px;font-weight:bold;" stroke="#000" stroke-width="0.36" textLength="91.2" lengthAdjust="spacingAndGlyphs" >Response to ALVAC-p53</text>
<text transform="translate(281.7,260) rotate(-90)" text-anchor="middle" textLength="82.5" lengthAdjust="spacingAndGlyphs" stroke="#000" stroke-width="0.36" style="font-family:'Liberation Sans', sans-serif;font-size:8.1px;font-weight:bold">IFN-g producing cells</text>
<text x="337.1" y="336.4" text-anchor="middle" style="font-family:'Liberation Sans', sans-serif;font-size:7.7px;" stroke="#000" stroke-width="0.3" textLength="63.2" lengthAdjust="spacingAndGlyphs" >Before vaccination</text>
<text x="403.7" y="336.4" text-anchor="middle" style="font-family:'Liberation Sans', sans-serif;font-size:7.7px;" stroke="#000" stroke-width="0.3" textLength="52.5" lengthAdjust="spacingAndGlyphs" >2-3 weeks after</text>
<text x="403.7" y="346.4" text-anchor="middle" style="font-family:'Liberation Sans', sans-serif;font-size:7.7px;" stroke="#000" stroke-width="0.3" textLength="40" lengthAdjust="spacingAndGlyphs" >last vaccine</text>
<text x="470.2" y="336.4" text-anchor="middle" style="font-family:'Liberation Sans', sans-serif;font-size:7.7px;" stroke="#000" stroke-width="0.3" textLength="63" lengthAdjust="spacingAndGlyphs" >2 months after last</text>
<text x="470.4" y="346.4" text-anchor="middle" style="font-family:'Liberation Sans', sans-serif;font-size:7.7px;" stroke="#000" stroke-width="0.3" textLength="26.8" lengthAdjust="spacingAndGlyphs" >vaccine</text>
<path d="M44.25 375.8 V509 H286.75" fill="none" stroke="#000" stroke-width="1.3"/>
<path d="M41.85 509.0 H44.25" stroke="#000" stroke-width="1.1"/>
<text x="40.55" y="511.55" text-anchor="end" style="font-family:'Liberation Sans', sans-serif;font-size:7.25px;" stroke="#000" stroke-width="0.3" >0</text>
<path d="M41.85 494.2 H44.25" stroke="#000" stroke-width="1.1"/>
<text x="40.55" y="496.75" text-anchor="end" style="font-family:'Liberation Sans', sans-serif;font-size:7.25px;" stroke="#000" stroke-width="0.3" >20</text>
<path d="M41.85 479.4 H44.25" stroke="#000" stroke-width="1.1"/>
<text x="40.55" y="481.95" text-anchor="end" style="font-family:'Liberation Sans', sans-serif;font-size:7.25px;" stroke="#000" stroke-width="0.3" >40</text>
<path d="M41.85 464.6 H44.25" stroke="#000" stroke-width="1.1"/>
<text x="40.55" y="467.15000000000003" text-anchor="end" style="font-family:'Liberation Sans', sans-serif;font-size:7.25px;" stroke="#000" stroke-width="0.3" >60</text>
<path d="M41.85 449.8 H44.25" stroke="#000" stroke-width="1.1"/>
<text x="40.55" y="452.35" text-anchor="end" style="font-family:'Liberation Sans', sans-serif;font-size:7.25px;" stroke="#000" stroke-width="0.3" >80</text>
<path d="M41.85 435.0 H44.25" stroke="#000" stroke-width="1.1"/>
<text x="40.55" y="437.55" text-anchor="end" style="font-family:'Liberation Sans', sans-serif;font-size:7.25px;" stroke="#000" stroke-width="0.3" >100</text>
<path d="M41.85 420.2 H44.25" stroke="#000" stroke-width="1.1"/>
<text x="40.55" y="422.75" text-anchor="end" style="font-family:'Liberation Sans', sans-serif;font-size:7.25px;" stroke="#000" stroke-width="0.3" >120</text>
<path d="M41.85 405.4 H44.25" stroke="#000" stroke-width="1.1"/>
<text x="40.55" y="407.95" text-anchor="end" style="font-family:'Liberation Sans', sans-serif;font-size:7.25px;" stroke="#000" stroke-width="0.3" >140</text>
<path d="M41.85 390.6 H44.25" stroke="#000" stroke-width="1.1"/>
<text x="40.55" y="393.15000000000003" text-anchor="end" style="font-family:'Liberation Sans', sans-serif;font-size:7.25px;" stroke="#000" stroke-width="0.3" >160</text>
<path d="M41.85 375.8 H44.25" stroke="#000" stroke-width="1.1"/>
<text x="40.55" y="378.35" text-anchor="end" style="font-family:'Liberation Sans', sans-serif;font-size:7.25px;" stroke="#000" stroke-width="0.3" >180</text>
<path d="M44.25 509 V511.4" stroke="#000" stroke-width="1.1"/>
<path d="M125 509 V511.4" stroke="#000" stroke-width="1.1"/>
<path d="M205.75 509 V511.4" stroke="#000" stroke-width="1.1"/>
<path d="M286.75 509 V511.4" stroke="#000" stroke-width="1.1"/>
<path d="M85 438.7 L165.5 384.68 L246.25 499.38" fill="none" stroke="#000" stroke-width="1.2" stroke-linejoin="round"/>
<path d="M85 505.3 L165.5 386.15999999999997 L246.25 509.0" fill="none" stroke="#000" stroke-width="1.2" stroke-linejoin="round"/>
<path d="M165.5 386.15999999999997 L246.25 502.34" fill="none" stroke="#000" stroke-width="1.2" stroke-linejoin="round"/>
<path d="M85 509.0 L165.5 417.98 L246.25 509.0" fill="none" stroke="#000" stroke-width="1.2" stroke-linejoin="round"/>
<path d="M85 492.72 L165.5 432.78 L246.25 458.68" fill="none" stroke="#000" stroke-width="1.2" stroke-linejoin="round"/>
<path d="M85 509.0 L165.5 440.92 L246.25 509.0" fill="none" stroke="#000" stroke-width="1.2" stroke-linejoin="round"/>
<path d="M85 509.0 L165.5 470.52 L246.25 502.34" fill="none" stroke="#000" stroke-width="1.2" stroke-linejoin="round"/>
<path d="M85 509.0 L165.5 474.96 L246.25 509.0" fill="none" stroke="#000" stroke-width="1.2" stroke-linejoin="round"/>
<path d="M85 509.0 L165.5 486.06 L246.25 493.46" fill="none" stroke="#000" stroke-width="1.2" stroke-linejoin="round"/>
<path d="M85 509.0 L165.5 491.24 L246.25 464.6" fill="none" stroke="#000" stroke-width="1.2" stroke-linejoin="round"/>
<path d="M85 509.0 L165.5 490.5 L246.25 509.0" fill="none" stroke="#000" stroke-width="1.2" stroke-linejoin="round"/>
<circle cx="85" cy="438.7" r="2.4" fill="#fff" stroke="#000" stroke-width="1.2"/>
<circle cx="165.5" cy="384.68" r="2.4" fill="#fff" stroke="#000" stroke-width="1.2"/>
<circle cx="246.25" cy="499.38" r="2.4" fill="#fff" stroke="#000" stroke-width="1.2"/>
<circle cx="85" cy="505.3" r="2.4" fill="#fff" stroke="#000" stroke-width="1.2"/>
<circle cx="165.5" cy="386.15999999999997" r="2.4" fill="#fff" stroke="#000" stroke-width="1.2"/>
<circle cx="246.25" cy="509.0" r="2.4" fill="#fff" stroke="#000" stroke-width="1.2"/>
<circle cx="246.25" cy="502.34" r="2.4" fill="#fff" stroke="#000" stroke-width="1.2"/>
<circle cx="85" cy="509.0" r="2.4" fill="#fff" stroke="#000" stroke-width="1.2"/>
<circle cx="165.5" cy="417.98" r="2.4" fill="#fff" stroke="#000" stroke-width="1.2"/>
<circle cx="85" cy="492.72" r="2.4" fill="#fff" stroke="#000" stroke-width="1.2"/>
<circle cx="165.5" cy="432.78" r="2.4" fill="#fff" stroke="#000" stroke-width="1.2"/>
<circle cx="246.25" cy="458.68" r="2.4" fill="#fff" stroke="#000" stroke-width="1.2"/>
<circle cx="165.5" cy="440.92" r="2.4" fill="#fff" stroke="#000" stroke-width="1.2"/>
<circle cx="165.5" cy="470.52" r="2.4" fill="#fff" stroke="#000" stroke-width="1.2"/>
<circle cx="165.5" cy="474.96" r="2.4" fill="#fff" stroke="#000" stroke-width="1.2"/>
<circle cx="165.5" cy="486.06" r="2.4" fill="#fff" stroke="#000" stroke-width="1.2"/>
<circle cx="246.25" cy="493.46" r="2.4" fill="#fff" stroke="#000" stroke-width="1.2"/>
<circle cx="165.5" cy="491.24" r="2.4" fill="#fff" stroke="#000" stroke-width="1.2"/>
<circle cx="246.25" cy="464.6" r="2.4" fill="#fff" stroke="#000" stroke-width="1.2"/>
<circle cx="165.5" cy="490.5" r="2.4" fill="#fff" stroke="#000" stroke-width="1.2"/>
<text x="154.7" y="364.6" text-anchor="middle" style="font-family:'Liberation Sans', sans-serif;font-size:8.05px;font-weight:bold;" stroke="#000" stroke-width="0.36" textLength="95.5" lengthAdjust="spacingAndGlyphs" >Response to p53 peptide</text>
<text transform="translate(22.6,439.6) rotate(-90)" text-anchor="middle" textLength="84.2" lengthAdjust="spacingAndGlyphs" stroke="#000" stroke-width="0.36" style="font-family:'Liberation Sans', sans-serif;font-size:8.1px;font-weight:bold">IFN-g producing cells</text>
<text x="84.7" y="523.2" text-anchor="middle" style="font-family:'Liberation Sans', sans-serif;font-size:7.7px;" stroke="#000" stroke-width="0.3" textLength="63" lengthAdjust="spacingAndGlyphs" >Before vaccination</text>
<text x="165.5" y="523.2" text-anchor="middle" style="font-family:'Liberation Sans', sans-serif;font-size:7.7px;" stroke="#000" stroke-width="0.3" textLength="66" lengthAdjust="spacingAndGlyphs" >2-3 weeks after last</text>
<text x="165.5" y="533" text-anchor="middle" style="font-family:'Liberation Sans', sans-serif;font-size:7.7px;" stroke="#000" stroke-width="0.3" textLength="26.3" lengthAdjust="spacingAndGlyphs" >vaccine</text>
<text x="246.1" y="523.2" text-anchor="middle" style="font-family:'Liberation Sans', sans-serif;font-size:7.7px;" stroke="#000" stroke-width="0.3" textLength="63.8" lengthAdjust="spacingAndGlyphs" >2 months after last</text>
<text x="246.1" y="533" text-anchor="middle" style="font-family:'Liberation Sans', sans-serif;font-size:7.7px;" stroke="#000" stroke-width="0.3" textLength="26.3" lengthAdjust="spacingAndGlyphs" >vaccine</text>
<path d="M337 379.75 V507.75 H448.75" fill="none" stroke="#000" stroke-width="1.3"/>
<path d="M334.6 507.75 H337" stroke="#000" stroke-width="1.1"/>
<text x="331.4" y="510.45" text-anchor="end" style="font-family:'Liberation Sans', sans-serif;font-size:7.5px;" stroke="#000" stroke-width="0.3" >0</text>
<path d="M334.6 491.75 H337" stroke="#000" stroke-width="1.1"/>
<text x="331.4" y="494.45" text-anchor="end" style="font-family:'Liberation Sans', sans-serif;font-size:7.5px;" stroke="#000" stroke-width="0.3" >0.2</text>
<path d="M334.6 475.75 H337" stroke="#000" stroke-width="1.1"/>
<text x="331.4" y="478.45" text-anchor="end" style="font-family:'Liberation Sans', sans-serif;font-size:7.5px;" stroke="#000" stroke-width="0.3" >0.4</text>
<path d="M334.6 459.75 H337" stroke="#000" stroke-width="1.1"/>
<text x="331.4" y="462.45" text-anchor="end" style="font-family:'Liberation Sans', sans-serif;font-size:7.5px;" stroke="#000" stroke-width="0.3" >0.6</text>
<path d="M334.6 443.75 H337" stroke="#000" stroke-width="1.1"/>
<text x="331.4" y="446.45" text-anchor="end" style="font-family:'Liberation Sans', sans-serif;font-size:7.5px;" stroke="#000" stroke-width="0.3" >0.8</text>
<path d="M334.6 427.75 H337" stroke="#000" stroke-width="1.1"/>
<text x="331.4" y="430.45" text-anchor="end" style="font-family:'Liberation Sans', sans-serif;font-size:7.5px;" stroke="#000" stroke-width="0.3" >1</text>
<path d="M334.6 411.75 H337" stroke="#000" stroke-width="1.1"/>
<text x="331.4" y="414.45" text-anchor="end" style="font-family:'Liberation Sans', sans-serif;font-size:7.5px;" stroke="#000" stroke-width="0.3" >1.2</text>
<path d="M334.6 395.75 H337" stroke="#000" stroke-width="1.1"/>
<text x="331.4" y="398.45" text-anchor="end" style="font-family:'Liberation Sans', sans-serif;font-size:7.5px;" stroke="#000" stroke-width="0.3" >1.4</text>
<path d="M334.6 379.75 H337" stroke="#000" stroke-width="1.1"/>
<text x="331.4" y="382.45" text-anchor="end" style="font-family:'Liberation Sans', sans-serif;font-size:7.5px;" stroke="#000" stroke-width="0.3" >1.6</text>
<rect x="361.3" y="419.75" width="31.2" height="88.0" fill="#fff" stroke="#000" stroke-width="1.3"/>
<rect x="392.5" y="440.55" width="32" height="67.2" fill="#808080" stroke="#000" stroke-width="1.3"/>
<path d="M376.7 390.71 V448.95 M373.7 390.71 H379.7 M373.7 448.95 H379.7" fill="none" stroke="#000" stroke-width="1.3"/>
<path d="M408.7 408.71000000000004 V472.55 M405.7 408.71000000000004 H411.7 M405.7 472.55 H411.7" fill="none" stroke="#000" stroke-width="1.3"/>
<rect x="391.3" y="368.2" width="86.1" height="18.2" fill="#fff" stroke="#000" stroke-width="1"/>
<rect x="395.6" y="370.2" width="4.2" height="4.2" fill="#fff" stroke="#000" stroke-width="1"/>
<rect x="395.6" y="379.4" width="4.2" height="4.2" fill="#808080" stroke="#000" stroke-width="1"/>
<text x="401.3" y="374.5" text-anchor="start" style="font-family:'Liberation Sans', sans-serif;font-size:6.1px;" stroke="#000" stroke-width="0.3" textLength="50" lengthAdjust="spacingAndGlyphs" >Before 1st vaccine</text>
<text x="401.3" y="384" text-anchor="start" style="font-family:'Liberation Sans', sans-serif;font-size:6.1px;" stroke="#000" stroke-width="0.3" textLength="72.5" lengthAdjust="spacingAndGlyphs" >2 months after 3rd vaccine</text>
<text transform="translate(314.4,442) rotate(-90)" text-anchor="middle" textLength="90" lengthAdjust="spacingAndGlyphs" stroke="#000" stroke-width="0.36" style="font-family:'Liberation Sans', sans-serif;font-size:8.1px;font-weight:bold">Lymphocytes (x10(9)/L)</text>
<text x="17" y="25.8" text-anchor="start" style="font-family:'Liberation Sans', sans-serif;font-size:12.4px;font-weight:bold;" stroke="#000" stroke-width="0.55" >A</text>
<text x="287" y="25.8" text-anchor="start" style="font-family:'Liberation Sans', sans-serif;font-size:12.4px;font-weight:bold;" stroke="#000" stroke-width="0.55" >B</text>
<text x="17" y="195.3" text-anchor="start" style="font-family:'Liberation Sans', sans-serif;font-size:12.4px;font-weight:bold;" stroke="#000" stroke-width="0.55" >C</text>
<text x="275.5" y="186.3" text-anchor="start" style="font-family:'Liberation Sans', sans-serif;font-size:12.4px;font-weight:bold;" stroke="#000" stroke-width="0.55" >D</text>
<text x="16.3" y="360.8" text-anchor="start" style="font-family:'Liberation Sans', sans-serif;font-size:12.4px;font-weight:bold;" stroke="#000" stroke-width="0.55" >E</text>
<text x="308" y="360.5" text-anchor="start" style="font-family:'Liberation Sans', sans-serif;font-size:12.4px;font-weight:bold;" stroke="#000" stroke-width="0.55" >F</text>
</g>
<path d="M0 0H520V549H0Z M1.25 1.25V547.65H518.7V1.25Z" fill="#000" fill-rule="evenodd"/>
</svg>
</body></html>
